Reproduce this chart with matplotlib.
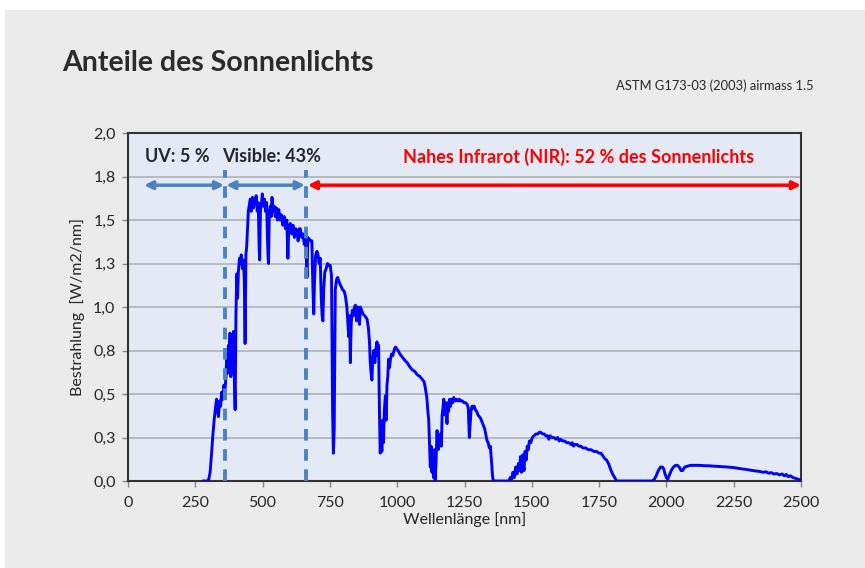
import matplotlib
matplotlib.use("Agg")
import matplotlib.pyplot as plt
from matplotlib.patches import Rectangle

# ---------------- data ----------------
wavelength_nm = [
    280, 295, 300, 305, 310, 315, 320, 325, 329, 333, 336, 340, 344, 348, 352, 356, 360, 364, 367, 370,
    373, 376, 379, 382, 386, 389, 392, 395, 398, 401, 404, 407, 410, 414, 417, 421, 425, 429, 432, 435,
    438, 441, 444, 447, 450, 454, 458, 462, 466, 469, 472, 476, 480, 484, 487, 489, 492, 496, 499, 503,
    507, 511, 515, 518, 520, 522, 525, 529, 532, 535, 539, 543, 547, 551, 555, 560, 565, 570, 575, 580,
    585, 590, 594, 597, 603, 608, 613, 618, 623, 628, 632, 636, 640, 645, 650, 655, 658, 662, 665, 668,
    673, 678, 683, 687, 690, 693, 697, 702, 706, 710, 714, 718, 721, 724, 727, 731, 736, 741, 746, 751,
    756, 760, 763, 766, 770, 775, 779, 785, 791, 797, 803, 808, 813, 817, 820, 823, 826, 829, 833, 837,
    841, 845, 849, 853, 857, 860, 863, 868, 873, 879, 884, 888, 893, 897, 900, 903, 906, 909, 913, 917,
    921, 925, 928, 931, 934, 937, 940, 943, 946, 949, 952, 956, 959, 962, 965, 968, 971, 975, 979, 983,
    987, 990, 994, 998, 1003, 1010, 1020, 1030, 1037, 1045, 1055, 1065, 1075, 1085, 1095, 1100, 1105, 1110, 1114, 1117,
    1120, 1123, 1126, 1129, 1132, 1135, 1138, 1141, 1144, 1148, 1152, 1156, 1161, 1164, 1167, 1170, 1173, 1176, 1179, 1182,
    1185, 1188, 1191, 1195, 1198, 1202, 1206, 1210, 1215, 1220, 1226, 1231, 1236, 1242, 1248, 1254, 1260, 1264, 1268, 1270,
    1274, 1278, 1282, 1286, 1290, 1295, 1300, 1305, 1310, 1315, 1320, 1325, 1330, 1334, 1338, 1342, 1346, 1350, 1354, 1357,
    1415, 1420, 1425, 1430, 1435, 1440, 1445, 1450, 1455, 1458, 1462, 1466, 1471, 1475, 1479, 1483, 1487, 1491, 1496, 1502,
    1508, 1515, 1522, 1528, 1533, 1540, 1546, 1552, 1558, 1563, 1568, 1575, 1582, 1590, 1596, 1602, 1607, 1615, 1622, 1630,
    1638, 1645, 1650, 1655, 1660, 1668, 1675, 1682, 1690, 1700, 1710, 1720, 1730, 1740, 1750, 1756, 1762, 1770, 1778, 1785,
    1792, 1800, 1808, 1815, 1948, 1955, 1962, 1970, 1978, 1985, 1990, 1995, 2000, 2005, 2010, 2018, 2026, 2034, 2041, 2048,
    2054, 2060, 2068, 2078, 2090, 2103, 2120, 2140, 2160, 2180, 2200, 2215, 2230, 2250, 2270, 2290, 2310, 2330, 2345, 2360,
    2370, 2380, 2390, 2400, 2410, 2420, 2430, 2438, 2445, 2452, 2460, 2470, 2480, 2490, 2500,
]
irradiance = [
    0.00, 0.00, 0.01, 0.05, 0.15, 0.26, 0.35, 0.42, 0.47, 0.40, 0.37, 0.46, 0.43, 0.51, 0.47, 0.55, 0.52, 0.60, 0.73, 0.62,
    0.78, 0.70, 0.85, 0.60, 0.66, 0.80, 0.86, 0.60, 0.41, 0.95, 1.19, 1.05, 1.20, 1.28, 1.25, 1.30, 1.22, 1.27, 1.15, 0.79,
    1.30, 1.35, 1.45, 1.55, 1.58, 1.62, 1.55, 1.63, 1.57, 1.62, 1.59, 1.64, 1.55, 1.60, 1.35, 1.27, 1.55, 1.60, 1.65, 1.58,
    1.62, 1.55, 1.60, 1.40, 1.30, 1.25, 1.55, 1.58, 1.52, 1.63, 1.55, 1.58, 1.52, 1.57, 1.50, 1.56, 1.50, 1.53, 1.47, 1.52,
    1.45, 1.50, 1.28, 1.45, 1.48, 1.42, 1.47, 1.40, 1.45, 1.43, 1.38, 1.45, 1.45, 1.40, 1.42, 1.36, 1.41, 1.30, 1.17, 1.40,
    1.39, 1.38, 1.38, 1.10, 0.96, 1.15, 1.30, 1.32, 1.30, 1.25, 1.28, 1.05, 0.95, 0.92, 1.10, 1.20, 1.22, 1.25, 1.24, 1.24,
    1.18, 0.40, 0.16, 0.30, 1.10, 1.16, 1.17, 1.14, 1.12, 1.10, 1.09, 1.06, 1.00, 0.90, 0.83, 0.95, 0.68, 0.90, 0.98, 0.95,
    1.00, 1.01, 0.92, 1.00, 0.98, 0.90, 1.00, 0.98, 0.96, 0.95, 0.94, 0.93, 0.88, 0.80, 0.68, 0.62, 0.58, 0.70, 0.75, 0.68,
    0.76, 0.80, 0.72, 0.78, 0.40, 0.16, 0.30, 0.17, 0.35, 0.22, 0.40, 0.49, 0.35, 0.55, 0.60, 0.70, 0.65, 0.70, 0.73, 0.72,
    0.74, 0.76, 0.77, 0.76, 0.75, 0.73, 0.71, 0.69, 0.68, 0.66, 0.64, 0.63, 0.61, 0.60, 0.58, 0.57, 0.53, 0.48, 0.40, 0.35,
    0.22, 0.08, 0.20, 0.05, 0.15, 0.02, 0.18, 0.00, 0.10, 0.29, 0.18, 0.25, 0.27, 0.20, 0.38, 0.42, 0.47, 0.38, 0.45, 0.40,
    0.33, 0.45, 0.40, 0.47, 0.43, 0.47, 0.45, 0.48, 0.46, 0.47, 0.46, 0.47, 0.46, 0.46, 0.45, 0.45, 0.44, 0.42, 0.25, 0.30,
    0.40, 0.43, 0.42, 0.43, 0.41, 0.40, 0.38, 0.37, 0.36, 0.34, 0.32, 0.30, 0.26, 0.23, 0.22, 0.19, 0.20, 0.12, 0.03, 0.00,
    0.00, 0.02, 0.01, 0.05, 0.02, 0.08, 0.04, 0.10, 0.06, 0.14, 0.05, 0.15, 0.06, 0.17, 0.12, 0.20, 0.18, 0.23, 0.22, 0.25,
    0.26, 0.27, 0.27, 0.28, 0.28, 0.27, 0.27, 0.26, 0.26, 0.24, 0.26, 0.25, 0.25, 0.24, 0.25, 0.23, 0.24, 0.23, 0.23, 0.22,
    0.22, 0.21, 0.22, 0.20, 0.21, 0.21, 0.20, 0.20, 0.19, 0.19, 0.18, 0.18, 0.17, 0.17, 0.16, 0.16, 0.15, 0.13, 0.12, 0.10,
    0.07, 0.04, 0.02, 0.00, 0.00, 0.01, 0.03, 0.06, 0.08, 0.08, 0.07, 0.04, 0.02, 0.01, 0.03, 0.06, 0.08, 0.09, 0.09, 0.08,
    0.06, 0.06, 0.08, 0.085, 0.09, 0.09, 0.09, 0.088, 0.087, 0.085, 0.083, 0.082, 0.08, 0.077, 0.072, 0.068, 0.063, 0.058, 0.055, 0.05,
    0.053, 0.045, 0.048, 0.04, 0.043, 0.035, 0.04, 0.03, 0.038, 0.025, 0.03, 0.02, 0.015, 0.01, 0.00,
]

x_ticks = [0, 250, 500, 750, 1000, 1250, 1500, 1750, 2000, 2250, 2500]
y_ticks = [0.0, 0.25, 0.5, 0.75, 1.0, 1.25, 1.5, 1.75, 2.0]
y_tick_labels = ["0,0", "0,3", "0,5", "0,8", "1,0", "1,3", "1,5", "1,8", "2,0"]

uv_limit = 360       # nm, UV / visible boundary
vis_limit = 660      # nm, visible / NIR boundary
arrow_level = 1.70
band_labels = ["UV: 5 %", "Visible: 43%", "Nahes Infrarot (NIR): 52 % des Sonnenlichts"]

# ---------------- figure ----------------
W, H = 865, 568
fig = plt.figure(figsize=(W / 100, H / 100), dpi=100, facecolor="white")
fig.patches.append(Rectangle((5 / W, 0), 1 - 5 / W, (H - 10) / H, transform=fig.transFigure,
                             facecolor="#ebebeb", edgecolor="none", zorder=-10))

font = "Lato"
ax = fig.add_axes([128 / W, (H - 481) / H, (801 - 128) / W, (481 - 133) / H])
ax.set_facecolor("#e3eaf6")
ax.set_xlim(0, 2500)
ax.set_ylim(0, 2.0)

for yt in y_ticks[1:-1]:
    ax.axhline(yt, color="#a9adb3", lw=1.1, zorder=1)

ax.plot(wavelength_nm, irradiance, color="#0000ff", lw=2.1, zorder=3)

dash_col = "#4f81bd"
for xv in (uv_limit, vis_limit):
    ax.plot([xv, xv], [0, 1.79], color=dash_col, lw=2.8, ls=(0, (3.0, 2.2)), zorder=4)

ap = dict(arrowstyle="<|-|>", color=dash_col, lw=2.5, mutation_scale=12, shrinkA=0, shrinkB=0)
ax.annotate("", xy=(60, arrow_level), xytext=(uv_limit - 3, arrow_level), arrowprops=ap, zorder=5)
ax.annotate("", xy=(uv_limit + 5, arrow_level), xytext=(vis_limit - 3, arrow_level), arrowprops=ap, zorder=5)
apr = dict(ap, color="#ff0000")
ax.annotate("", xy=(vis_limit + 8, arrow_level), xytext=(2500, arrow_level), arrowprops=apr, zorder=5)

ax.text(63, 1.865, band_labels[0], fontsize=13, fontweight="bold", color="#262626",
        family=font, va="center", ha="left")
ax.text(350, 1.865, band_labels[1], fontsize=13, fontweight="bold", color="#262626",
        family=font, va="center", ha="left")
ax.text(1674, 1.865, band_labels[2], fontsize=13, fontweight="bold", color="#ff0000",
        family=font, va="center", ha="center")

ax.set_xticks(x_ticks)
ax.set_xticklabels([str(v) for v in x_ticks], family=font, fontsize=11.5, color="#262626")
ax.set_yticks(y_ticks)
ax.set_yticklabels(y_tick_labels, family=font, fontsize=11.5, color="#262626")
ax.tick_params(axis="both", direction="out", length=4, width=1, color="#888888")
ax.tick_params(axis="x", pad=7)
ax.tick_params(axis="y", pad=5)
for s in ax.spines.values():
    s.set_color("#333333")
    s.set_linewidth(1.5)

ax.set_xlabel("Wellenlänge [nm]", family=font, fontsize=11.5, color="#262626", labelpad=1)
ax.set_ylabel("Bestrahlung  [W/m2/nm]", family=font, fontsize=11.5, color="#262626", labelpad=6)

fig.text(62 / W, 1 - 63 / H, "Anteile des Sonnenlichts", family=font, fontsize=20.5,
         fontweight="bold", color="#2b2b2b", va="center", ha="left")
fig.text(814 / W, 1 - 86 / H, "ASTM G173-03 (2003) airmass 1.5", family=font, fontsize=9.3,
         color="#262626", va="center", ha="right")

fig.savefig("out.png", dpi=100, facecolor=fig.get_facecolor())
